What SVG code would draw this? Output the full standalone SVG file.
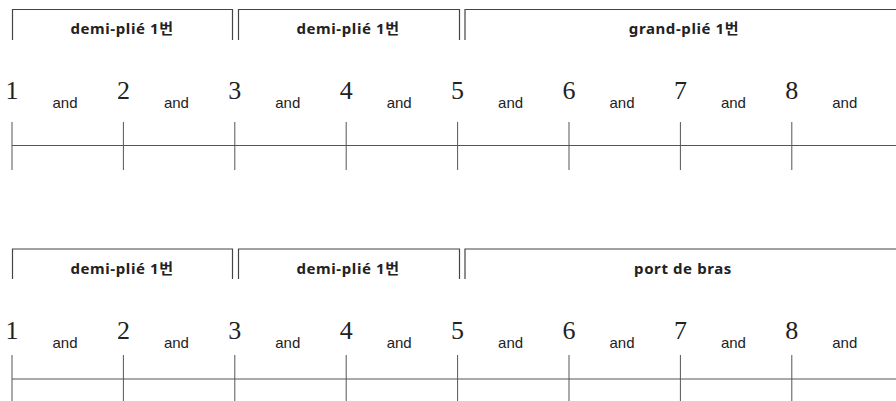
<svg xmlns="http://www.w3.org/2000/svg" width="896" height="401" viewBox="0 0 896 401">
<style>
.br{fill:none;stroke:#444;stroke-width:1.2}
.tk{stroke:#555;stroke-width:1}
.lbl{font-family:"Noto Sans","Noto Sans CJK KR",sans-serif;font-weight:bold;font-size:15px;letter-spacing:0.6px;fill:#222;text-anchor:middle}
.num{font-family:"Liberation Serif",serif;font-size:26px;fill:#222;text-anchor:middle}
.and{font-family:"Liberation Sans",Arial,sans-serif;font-size:15px;fill:#222;text-anchor:middle}
</style>
<rect width="896" height="401" fill="#fff"/>
<g id="row1">
  <g id="r1-bracket1"><path class="br" d="M12.5,40V9.5H232.5V40"/><text class="lbl" x="122" y="34">demi-plié 1번</text></g>
  <g id="r1-bracket2"><path class="br" d="M238.5,40V9.5H459.5V40"/><text class="lbl" x="348" y="34">demi-plié 1번</text></g>
  <g id="r1-bracket3"><path class="br" d="M465,40V9.5H896"/><text class="lbl" x="684" y="34">grand-plié 1번</text></g>
  <g id="r1-counts">
    <text class="num" x="12" y="99">1</text><text class="and" x="65" y="108">and</text>
    <text class="num" x="123.4" y="99">2</text><text class="and" x="176.4" y="108">and</text>
    <text class="num" x="234.8" y="99">3</text><text class="and" x="287.8" y="108">and</text>
    <text class="num" x="346.2" y="99">4</text><text class="and" x="399.2" y="108">and</text>
    <text class="num" x="457.6" y="99">5</text><text class="and" x="510.6" y="108">and</text>
    <text class="num" x="569" y="99">6</text><text class="and" x="622" y="108">and</text>
    <text class="num" x="680.4" y="99">7</text><text class="and" x="733.4" y="108">and</text>
    <text class="num" x="791.8" y="99">8</text><text class="and" x="844.8" y="108">and</text>
  </g>
  <g id="r1-timeline">
    <line class="tk" x1="12" y1="145.5" x2="896" y2="145.5"/>
    <line class="tk" x1="12" y1="122" x2="12" y2="170"/>
    <line class="tk" x1="123.4" y1="122" x2="123.4" y2="170"/>
    <line class="tk" x1="234.8" y1="122" x2="234.8" y2="170"/>
    <line class="tk" x1="346.2" y1="122" x2="346.2" y2="170"/>
    <line class="tk" x1="457.6" y1="122" x2="457.6" y2="170"/>
    <line class="tk" x1="569" y1="122" x2="569" y2="170"/>
    <line class="tk" x1="680.4" y1="122" x2="680.4" y2="170"/>
    <line class="tk" x1="791.8" y1="122" x2="791.8" y2="170"/>
  </g>
</g>
<g id="row2">
  <g id="r2-bracket1"><path class="br" d="M12.5,279V249H232.5V279"/><text class="lbl" x="122" y="273.5">demi-plié 1번</text></g>
  <g id="r2-bracket2"><path class="br" d="M238.5,279V249H459.5V279"/><text class="lbl" x="348" y="273.5">demi-plié 1번</text></g>
  <g id="r2-bracket3"><path class="br" d="M465,279V249H896"/><text class="lbl" x="683" y="273.5">port de bras</text></g>
  <g id="r2-counts">
    <text class="num" x="12" y="338.5">1</text><text class="and" x="65" y="347.5">and</text>
    <text class="num" x="123.4" y="338.5">2</text><text class="and" x="176.4" y="347.5">and</text>
    <text class="num" x="234.8" y="338.5">3</text><text class="and" x="287.8" y="347.5">and</text>
    <text class="num" x="346.2" y="338.5">4</text><text class="and" x="399.2" y="347.5">and</text>
    <text class="num" x="457.6" y="338.5">5</text><text class="and" x="510.6" y="347.5">and</text>
    <text class="num" x="569" y="338.5">6</text><text class="and" x="622" y="347.5">and</text>
    <text class="num" x="680.4" y="338.5">7</text><text class="and" x="733.4" y="347.5">and</text>
    <text class="num" x="791.8" y="338.5">8</text><text class="and" x="844.8" y="347.5">and</text>
  </g>
  <g id="r2-timeline">
    <line class="tk" x1="12" y1="379" x2="896" y2="379"/>
    <line class="tk" x1="12" y1="355" x2="12" y2="401"/>
    <line class="tk" x1="123.4" y1="355" x2="123.4" y2="401"/>
    <line class="tk" x1="234.8" y1="355" x2="234.8" y2="401"/>
    <line class="tk" x1="346.2" y1="355" x2="346.2" y2="401"/>
    <line class="tk" x1="457.6" y1="355" x2="457.6" y2="401"/>
    <line class="tk" x1="569" y1="355" x2="569" y2="401"/>
    <line class="tk" x1="680.4" y1="355" x2="680.4" y2="401"/>
    <line class="tk" x1="791.8" y1="355" x2="791.8" y2="401"/>
  </g>
</g>
</svg>
